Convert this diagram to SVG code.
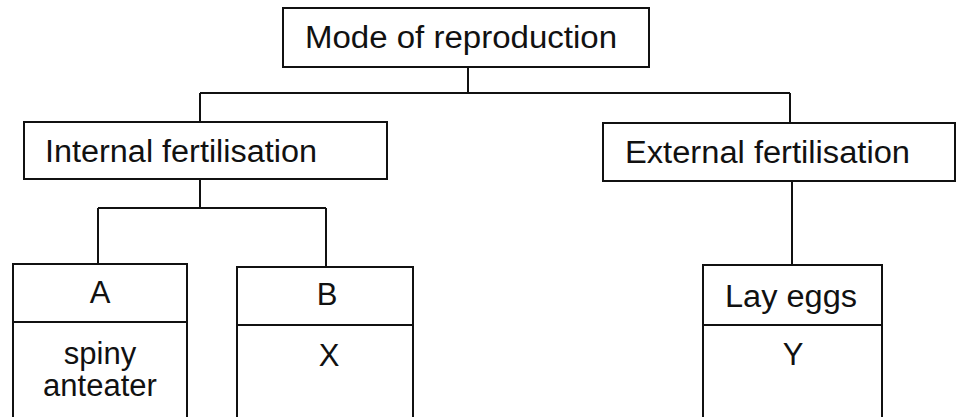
<svg xmlns="http://www.w3.org/2000/svg" width="961" height="417" viewBox="0 0 961 417">
<style>
.box{fill:#fff;stroke:#111;stroke-width:2}
.ln{fill:none;stroke:#111;stroke-width:2}
.t{font-family:"Liberation Sans",Arial,sans-serif;font-size:31px;fill:#111}
.c{text-anchor:middle}
</style>
<rect width="961" height="417" fill="#fff"/>
<g id="connectors">
<path class="ln" d="M468 67V93M200 93H790M200 93V122M790 93V123"/>
<path class="ln" d="M200 179V208M98 208H326M98 208V264M326 208V267"/>
<path class="ln" d="M792 181V265"/>
</g>
<g id="mode">
<rect class="box" x="283" y="8" width="366" height="59"/>
<text class="t" x="305" y="48" textLength="312" lengthAdjust="spacingAndGlyphs">Mode of reproduction</text>
</g>
<g id="internal">
<rect class="box" x="24" y="122" width="363" height="57"/>
<text class="t" x="45" y="162" textLength="272" lengthAdjust="spacingAndGlyphs">Internal fertilisation</text>
</g>
<g id="external">
<rect class="box" x="603" y="123" width="352" height="58"/>
<text class="t" x="625" y="163" textLength="285" lengthAdjust="spacingAndGlyphs">External fertilisation</text>
</g>
<g id="nodeA">
<rect class="box" x="13" y="264" width="174" height="58"/>
<rect class="box" x="13" y="322" width="174" height="110"/>
<text class="t c" x="100" y="303">A</text>
<text class="t c" x="100" y="364">spiny</text>
<text class="t c" x="100" y="396">anteater</text>
</g>
<g id="nodeB">
<rect class="box" x="237" y="267" width="176" height="58"/>
<rect class="box" x="237" y="325" width="176" height="110"/>
<text class="t c" x="327" y="305">B</text>
<text class="t c" x="329" y="366">X</text>
</g>
<g id="nodeLay">
<rect class="box" x="703" y="265" width="179" height="60"/>
<rect class="box" x="703" y="325" width="179" height="110"/>
<text class="t" x="725" y="307" textLength="132" lengthAdjust="spacingAndGlyphs">Lay eggs</text>
<text class="t c" x="793" y="365">Y</text>
</g>
</svg>
